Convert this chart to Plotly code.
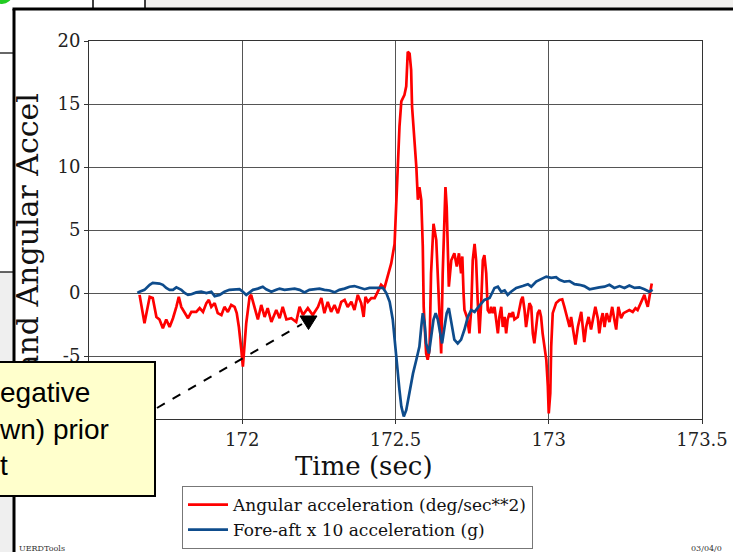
import plotly.graph_objects as go

# ---------------- data ----------------
red_t = [171.665, 171.681, 171.698, 171.708, 171.720, 171.730, 171.741, 171.752, 171.763, 171.774,
         171.785, 171.793, 171.801, 171.812, 171.823, 171.834, 171.850, 171.861, 171.872, 171.883,
         171.891, 171.899, 171.910, 171.920, 171.932, 171.942, 171.953, 171.964, 171.975, 171.982,
         171.989, 171.997, 172.002, 172.013, 172.024, 172.029, 172.040, 172.051, 172.062, 172.073,
         172.083, 172.095, 172.111, 172.122, 172.132, 172.144, 172.160, 172.176, 172.187, 172.198,
         172.214, 172.230, 172.247, 172.258, 172.268, 172.279, 172.290, 172.301, 172.312, 172.323,
         172.334, 172.344, 172.356, 172.366, 172.377, 172.388, 172.396, 172.402, 172.410, 172.421,
         172.432, 172.442, 172.453, 172.464, 172.475, 172.486, 172.497, 172.502, 172.508, 172.513,
         172.519, 172.529, 172.535, 172.540, 172.546, 172.551, 172.554, 172.562, 172.568, 172.573,
         172.578, 172.584, 172.589, 172.592, 172.600, 172.605, 172.611, 172.616, 172.624, 172.633,
         172.638, 172.644, 172.649, 172.654, 172.660, 172.663, 172.667, 172.674, 172.682, 172.692,
         172.700, 172.707, 172.714, 172.718, 172.722, 172.725, 172.733, 172.741, 172.747, 172.752,
         172.758, 172.763, 172.768, 172.774, 172.780, 172.785, 172.790, 172.796, 172.801, 172.807,
         172.812, 172.817, 172.823, 172.828, 172.834, 172.839, 172.845, 172.850, 172.856, 172.861,
         172.866, 172.872, 172.877, 172.883, 172.888, 172.899, 172.910, 172.915, 172.921, 172.926,
         172.932, 172.937, 172.943, 172.948, 172.953, 172.959, 172.964, 172.970, 172.975, 172.980,
         172.986, 172.992, 172.997, 173.000, 173.005, 173.008, 173.013, 173.024, 173.035, 173.044,
         173.051, 173.062, 173.068, 173.073, 173.081, 173.087, 173.095, 173.106, 173.111, 173.116,
         173.122, 173.130, 173.138, 173.144, 173.152, 173.160, 173.165, 173.171, 173.176, 173.182,
         173.189, 173.198, 173.207, 173.214, 173.220, 173.227, 173.236, 173.244, 173.252, 173.263,
         173.274, 173.283, 173.290, 173.298, 173.307, 173.312, 173.318, 173.323, 173.328, 173.332,
         173.336]
red_v = [-0.15, -2.4, -0.3, -0.4, -1.9, -2.1, -2.8, -2.1, -2.7, -2.0,
         -1.1, -0.3, -1.1, -1.5, -2.0, -1.5, -1.5, -1.2, -1.5, -0.8,
         -0.55, -1.1, -0.8, -1.6, -1.75, -1.1, -1.5, -0.95, -1.1, -1.6,
         -2.7, -4.5, -5.85, -2.4, -0.3, -0.15, -1.2, -2.1, -0.95, -1.9,
         -1.2, -2.3, -1.35, -2.0, -1.1, -2.1, -2.0, -2.3, -1.1, -1.75,
         -1.2, -1.75, -1.1, -0.4, -1.6, -0.7, -1.5, -0.95, -1.6, -0.7,
         -0.55, -1.1, -0.7, -1.35, -0.15, -0.8, -1.9, -0.3, -0.7, -0.4,
         -0.4, 0.1, 0.65, 0.4, 1.3, 2.35, 3.9, 6.85, 10.0, 13.2,
         15.2, 15.7, 16.4, 19.15, 19.0, 17.7, 14.8, 12.1, 10.0, 7.4,
         8.4, 7.4, 3.7, -1.1, -4.8, -5.3, -4.5, 1.55, 5.5, 4.2,
         1.55, -1.1, -4.8, 1.55, 6.85, 8.4, 6.85, 0.5, 2.6, 3.15,
         2.1, 3.15, 1.55, 2.9, 0.0, -1.35, -1.9, -3.2, -1.35, 2.6,
         3.9, 2.6, -0.55, -3.2, -0.55, 2.6, 3.0, 1.55, -1.35, -1.6,
         -1.1, -1.6, -1.1, -2.1, -3.2, -1.9, -1.1, -2.7, -1.9, -3.2,
         -2.1, -1.6, -1.9, -1.5, -2.1, -1.9, -0.55, -0.3, -1.35, -2.7,
         -1.6, -0.8, -1.1, -3.2, -4.0, -2.7, -1.6, -1.35, -1.9, -3.2,
         -4.25, -5.3, -7.4, -9.55, -7.95, -4.25, -1.6, -0.8, -0.55, -0.5,
         -1.1, -2.1, -2.7, -1.9, -3.2, -4.1, -2.7, -1.5, -2.7, -3.9,
         -2.7, -1.9, -2.9, -2.1, -1.1, -2.0, -3.2, -2.1, -1.6, -2.7,
         -1.6, -2.3, -1.1, -2.1, -2.9, -1.1, -2.0, -1.6, -1.5, -1.35,
         -1.5, -1.2, -1.35, -0.95, -0.4, -0.15, -0.7, -1.1, -0.4, 0.35,
         0.75]

blue_t = [171.658, 171.665, 171.681, 171.698, 171.708, 171.720, 171.730, 171.741, 171.752, 171.763,
          171.774, 171.785, 171.801, 171.812, 171.823, 171.834, 171.850, 171.866, 171.883, 171.899,
          171.910, 171.926, 171.942, 171.958, 171.975, 171.991, 172.002, 172.013, 172.024, 172.035,
          172.051, 172.067, 172.078, 172.095, 172.111, 172.122, 172.138, 172.155, 172.171, 172.187,
          172.203, 172.219, 172.236, 172.252, 172.268, 172.285, 172.301, 172.317, 172.334, 172.350,
          172.366, 172.383, 172.399, 172.415, 172.432, 172.448, 172.459, 172.470, 172.481, 172.491,
          172.497, 172.502, 172.508, 172.513, 172.519, 172.527, 172.535, 172.546, 172.557, 172.568,
          172.578, 172.584, 172.589, 172.595, 172.600, 172.609, 172.616, 172.624, 172.631, 172.638,
          172.646, 172.652, 172.660, 172.667, 172.674, 172.682, 172.692, 172.703, 172.714, 172.725,
          172.736, 172.747, 172.758, 172.774, 172.790, 172.807, 172.823, 172.834, 172.845, 172.856,
          172.866, 172.877, 172.894, 172.915, 172.932, 172.943, 172.959, 172.975, 172.992, 173.008,
          173.024, 173.035, 173.051, 173.068, 173.084, 173.100, 173.116, 173.133, 173.149, 173.165,
          173.182, 173.198, 173.214, 173.231, 173.247, 173.263, 173.280, 173.296, 173.312, 173.328,
          173.339]
blue_v = [0.0, 0.1, 0.25, 0.65, 0.8, 0.8, 0.75, 0.65, 0.4, 0.25,
          0.25, 0.45, 0.25, 0.0, -0.15, -0.1, 0.05, 0.1, 0.0, 0.1,
          -0.25, -0.15, 0.1, 0.25, 0.25, 0.3, 0.1, -0.15, 0.05, 0.25,
          0.35, 0.5, 0.3, 0.1, 0.25, 0.35, 0.25, 0.3, 0.35, 0.25,
          0.05, 0.25, 0.3, 0.35, 0.25, 0.2, 0.05, 0.25, 0.35, 0.5,
          0.55, 0.45, 0.3, 0.4, 0.4, 0.45, 0.4, 0.0, -0.7, -2.1,
          -3.7, -5.3, -6.6, -7.7, -9.0, -9.8, -9.3, -7.7, -6.4, -5.3,
          -4.25, -2.7, -1.6, -2.4, -4.0, -4.8, -3.7, -2.1, -1.6, -2.1,
          -3.2, -4.0, -2.7, -1.6, -1.2, -2.4, -3.7, -4.0, -3.7, -2.9,
          -1.9, -1.35, -1.5, -1.0, -0.55, -0.4, 0.4, 0.5, 0.1, 0.2,
          -0.15, 0.1, 0.4, 0.55, 0.7, 0.5, 0.9, 1.1, 1.3, 1.2,
          1.25, 1.05, 0.9, 0.95, 0.7, 0.65, 0.55, 0.3, 0.4, 0.45,
          0.5, 0.65, 0.4, 0.55, 0.4, 0.6, 0.4, 0.45, 0.3, 0.1,
          0.25]

series_names = ["Angular acceleration (deg/sec**2)", "Fore-aft x 10 acceleration (g)"]
y_tick_vals = [-10, -5, 0, 5, 10, 15, 20]
y_tick_text = ["", "-5", "0", "5", "10", "15", "20"]      # -10 is hidden under the callout
x_tick_vals = [171.5, 172, 172.5, 173, 173.5]
x_tick_text = ["", "172", "172.5", "173", "173.5"]       # 171.5 is hidden under the callout
x_title = "Time (sec)"
y_title_visible = "and Angular Accel"
callout_lines = ["egative", "wn) prior", "t"]

# ---------------- layout helpers (pixel -> paper) ----------------
W, H = 733, 552
ML, MR, MT, MB = 89, 31, 41, 133
PW, PH = W - ML - MR, H - MT - MB


def px(x):
    return (x - ML) / PW


def py(y):
    return (H - MB - y) / PH


SERIF = "DejaVu Serif"

fig = go.Figure()
fig.add_trace(go.Scatter(x=red_t, y=red_v, mode="lines", name=series_names[0],
                         line=dict(color="#FF0000", width=2.7)))
fig.add_trace(go.Scatter(x=blue_t, y=blue_v, mode="lines", name=series_names[1],
                         line=dict(color="#0E4C8C", width=2.7)))

fig.update_layout(
    width=W, height=H,
    margin=dict(l=ML, r=MR, t=MT, b=MB, pad=0, autoexpand=False),
    paper_bgcolor="white", plot_bgcolor="white",
    showlegend=True,
    legend=dict(x=px(182), y=py(486), xanchor="left", yanchor="top",
                bgcolor="white", bordercolor="#777", borderwidth=1,
                font=dict(family=SERIF, size=17, color="#111"),
                tracegroupgap=0, itemwidth=40),
    font=dict(family=SERIF, color="#111"),
)

fig.update_xaxes(range=[171.5, 173.5], tickmode="array", tickvals=x_tick_vals, ticktext=x_tick_text,
                 automargin=False,
                 showgrid=True, gridcolor="#555", gridwidth=1, zeroline=False,
                 showline=True, linecolor="#333", linewidth=1, mirror=True,
                 ticks="outside", ticklen=4, tickcolor="#333",
                 tickfont=dict(family=SERIF, size=18, color="#222"))
fig.update_yaxes(range=[-10, 20], tickmode="array", tickvals=y_tick_vals, ticktext=y_tick_text,
                 automargin=False,
                 showgrid=True, gridcolor="#555", gridwidth=1, zeroline=False,
                 showline=True, linecolor="#333", linewidth=1, mirror=True,
                 ticks="outside", ticklen=4, tickcolor="#333",
                 tickfont=dict(family=SERIF, size=18, color="#222"))

shapes = []
# slide frame decoration
shapes.append(dict(type="rect", xref="paper", yref="paper", x0=px(145), x1=px(740), y0=py(-5), y1=py(8),
                   fillcolor="#F1F0EE", line=dict(width=0), layer="above"))
shapes.append(dict(type="rect", xref="paper", yref="paper", x0=px(-5), x1=px(13), y0=py(272), y1=py(560),
                   fillcolor="#EFEFEF", line=dict(width=0), layer="above"))
for xx in (93, 145):
    shapes.append(dict(type="line", xref="paper", yref="paper", x0=px(xx), x1=px(xx), y0=py(-2), y1=py(9),
                       line=dict(color="black", width=1.5), layer="above"))
for yy in (53, 272):
    shapes.append(dict(type="line", xref="paper", yref="paper", x0=px(-5), x1=px(14), y0=py(yy), y1=py(yy),
                       line=dict(color="black", width=1.2), layer="above"))
shapes.append(dict(type="line", xref="paper", yref="paper", x0=px(12.5), x1=px(740), y0=py(9), y1=py(9),
                   line=dict(color="black", width=3), layer="above"))
shapes.append(dict(type="line", xref="paper", yref="paper", x0=px(14), x1=px(14), y0=py(9), y1=py(560),
                   line=dict(color="black", width=3), layer="above"))
shapes.append(dict(type="circle", xref="paper", yref="paper", x0=px(-8), x1=px(12), y0=py(-14), y1=py(4),
                   fillcolor="#22CC22", line=dict(width=0), layer="above"))
# callout pointer: dashed leader and triangle head
shapes.append(dict(type="line", xref="paper", yref="paper", x0=px(157), y0=py(408), x1=px(302), y1=py(324),
                   line=dict(color="black", width=2, dash="dash"), layer="above"))
tri = "M {:.5f},{:.5f} L {:.5f},{:.5f} L {:.5f},{:.5f} Z".format(px(300), py(316), px(317), py(316), px(308.5), py(329.5))
shapes.append(dict(type="path", xref="paper", yref="paper", path=tri,
                   fillcolor="black", line=dict(color="black", width=1), layer="above"))
fig.update_layout(shapes=shapes)

annotations = [
    dict(text=y_title_visible, textangle=-90, xref="paper", yref="paper",
         x=px(27), y=py(375), xanchor="center", yanchor="bottom", showarrow=False,
         font=dict(family=SERIF, size=30, color="#111")),
    dict(text=x_title, xref="paper", yref="paper", x=px(364), y=py(466), xanchor="center", yanchor="middle",
         showarrow=False, font=dict(family=SERIF, size=26, color="#111")),
    dict(text="<br>".join(callout_lines), xref="paper", yref="paper",
         x=px(-3), y=py(361), xanchor="left", yanchor="top", align="left", valign="middle",
         width=155, height=132, bgcolor="#FFFFCC", bordercolor="black", borderwidth=2, borderpad=0,
         showarrow=False, font=dict(family="Liberation Sans", size=28, color="black")),
    dict(text="UERDTools", xref="paper", yref="paper", x=px(17), y=py(548), xanchor="left", yanchor="middle",
         showarrow=False, font=dict(family=SERIF, size=8, color="#333")),
    dict(text="03/04/0", xref="paper", yref="paper", x=px(689), y=py(548), xanchor="left", yanchor="middle",
         showarrow=False, font=dict(family=SERIF, size=8, color="#333")),
]
fig.update_layout(annotations=annotations)

fig.write_html("out.html")
